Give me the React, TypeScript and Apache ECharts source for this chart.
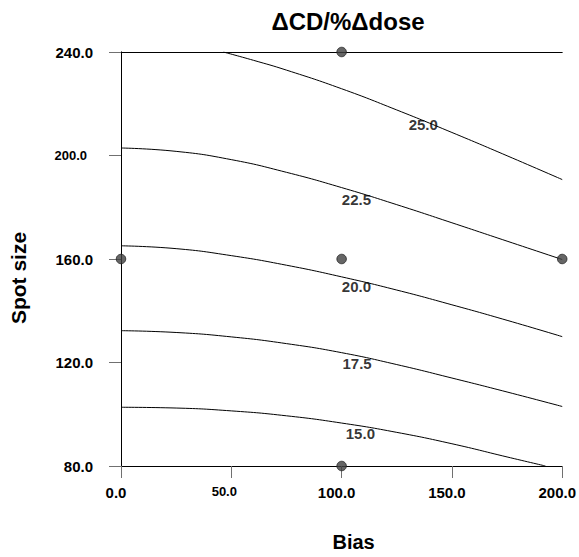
import React, { useEffect, useRef } from "react";
import * as echarts from "echarts";

const FONT = "'Liberation Sans', Arial, Helvetica, sans-serif";

// Contour lines: [bias, spot size]
const contour25: number[][] = [[46.4, 240], [60, 236.8], [75, 233], [100, 225.8], [125, 217.6], [150, 208.9], [175, 199.9], [200, 190.7]];
const contour22_5: number[][] = [[0, 202.9], [25, 201.6], [50, 198.4], [75, 193.5], [100, 187.6], [125, 181], [150, 174], [175, 166.9], [200, 159.8]];
const contour20: number[][] = [[0, 165.1], [25, 164], [50, 161.3], [75, 157.6], [100, 153.1], [125, 148], [150, 142.3], [175, 136.3], [200, 130]];
const contour17_5: number[][] = [[0, 132.3], [25, 131.6], [50, 129.9], [75, 127.3], [100, 123.8], [125, 119.2], [150, 114], [175, 108.6], [200, 103]];
const contour15: number[][] = [[0, 102.7], [25, 102.4], [50, 101.3], [75, 99.4], [100, 96.6], [125, 93], [150, 88.6], [175, 83.5], [192.4, 80]];

// Contour labels: [bias, spot size, level]
const contourLabels: number[][] = [
  [137, 212.1, 25.0],
  [106.7, 183.0, 22.5],
  [106.7, 149.4, 20.0],
  [107, 119.5, 17.5],
  [108.5, 92.5, 15.0],
];

// Design points
const designPoints: number[][] = [[100, 240], [0, 160], [100, 160], [200, 160], [100, 80]];

const xSmallTicks = [50];
const ySmallTicks = [200];

export default function App() {
  const ref = useRef<HTMLDivElement>(null);
  useEffect(() => {
    if (!ref.current) return;
    const chart = echarts.init(ref.current, undefined, { renderer: "svg" });
    const lineSeries = (data: number[][]) => ({
      type: "line",
      data,
      smooth: true,
      symbol: "none",
      lineStyle: { color: "#000", width: 1 },
      silent: true,
    });
    chart.setOption({
      animation: false,
      backgroundColor: "#fff",
      title: {
        text: "ΔCD/%Δdose",
        left: 343,
        textAlign: "center",
        top: 4,
        textStyle: { fontFamily: FONT, fontSize: 24, fontWeight: "bold", color: "#000" },
      },
      grid: { left: 118, top: 52, width: 445, height: 418 },
      xAxis: [
        {
          type: "value",
          min: 0,
          max: 200,
          interval: 50,
          name: "Bias",
          nameLocation: "middle",
          nameGap: 66,
          nameTextStyle: { fontFamily: FONT, fontSize: 20, fontWeight: "bold", color: "#000", padding: [0, 0, 0, 24] },
          splitLine: { show: false },
          axisLine: { lineStyle: { color: "#000", width: 1 } },
          axisTick: { show: true, length: 12, lineStyle: { color: "#707070" } },
          axisLabel: {
            margin: 19,
            formatter: (v: number) => (xSmallTicks.includes(v) ? `{s|${v.toFixed(1)}}` : `{b|${v.toFixed(1)}}`),
            rich: {
              b: { fontFamily: FONT, fontSize: 15, fontWeight: "bold", color: "#000", padding: [0, 10, 0, 0] },
              s: { fontFamily: FONT, fontSize: 13, fontWeight: "bold", color: "#000", padding: [0, 14, 0, 0] },
            },
          },
        },
        {
          type: "value",
          position: "top",
          min: 0,
          max: 200,
          splitLine: { show: false },
          axisLine: { show: true, lineStyle: { color: "#000", width: 1 } },
          axisTick: { show: false },
          axisLabel: { show: false },
        },
      ],
      yAxis: [
        {
          type: "value",
          min: 80,
          max: 240,
          interval: 40,
          name: "Spot size",
          nameLocation: "middle",
          nameGap: 92,
          nameTextStyle: { fontFamily: FONT, fontSize: 21, fontWeight: "bold", color: "#000", padding: [0, 38, 0, 0] },
          splitLine: { show: false },
          axisLine: { show: true, lineStyle: { color: "#707070", width: 1 } },
          axisTick: { show: true, length: 12, lineStyle: { color: "#707070" } },
          axisLabel: {
            margin: 28,
            formatter: (v: number) => (ySmallTicks.includes(v) ? `{s|${v.toFixed(1)}}` : `{b|${v.toFixed(1)}}`),
            rich: {
              b: { fontFamily: FONT, fontSize: 15, fontWeight: "bold", color: "#000" },
              s: { fontFamily: FONT, fontSize: 13, fontWeight: "bold", color: "#000", padding: [0, 6, 0, 0] },
            },
          },
        },
        {
          type: "value",
          position: "right",
          min: 80,
          max: 240,
          splitLine: { show: false },
          axisLine: { show: true, lineStyle: { color: "#000", width: 1 } },
          axisTick: { show: false },
          axisLabel: { show: false },
        },
      ],
      series: [
        lineSeries(contour25),
        lineSeries(contour22_5),
        lineSeries(contour20),
        lineSeries(contour17_5),
        lineSeries(contour15),
        {
          type: "scatter",
          data: contourLabels,
          symbolSize: 0,
          silent: true,
          label: {
            show: true,
            position: "inside",
            formatter: (p: any) => Number(p.value[2]).toFixed(1),
            fontFamily: FONT,
            fontSize: 15,
            fontWeight: "bold",
            color: "#000",
          },
        },
        {
          type: "scatter",
          data: designPoints,
          symbol: "circle",
          symbolSize: 9.5,
          clip: false,
          silent: true,
          itemStyle: { color: "#404040", borderColor: "#222222", borderWidth: 1 },
          z: 5,
        },
      ],
    });
    return () => chart.dispose();
  }, []);
  return <div ref={ref} style={{ position: "absolute", left: 0, top: 0, width: 579, height: 557 }} />;
}
